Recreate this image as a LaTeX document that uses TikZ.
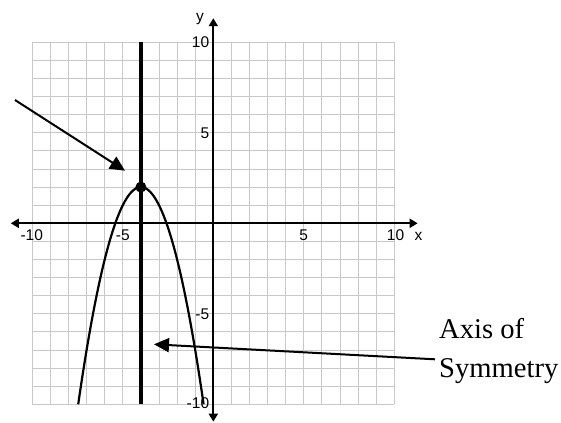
\documentclass[tikz,border=0pt]{standalone}
\usepackage{fontspec}
\setmainfont{Liberation Serif}
\setsansfont{Liberation Sans}
\usetikzlibrary{arrows.meta}
\definecolor{gridgray}{RGB}{200,200,200}
\tikzset{
  gridline/.style={draw=gridgray, line width=1pt},
  axisline/.style={draw=black, line width=2pt, {Triangle[length=8pt,width=9pt]}-{Triangle[length=8pt,width=9pt]}},
  symline/.style={draw=black, line width=3.4pt},
  curve/.style={draw=black, line width=2.2pt},
  pointer/.style={draw=black, line width=2pt, -{Triangle[length=15pt,width=14pt]}},
  ticklab/.style={font=\sffamily\fontsize{15.5}{18}\selectfont, inner sep=0pt},
  biglabel/.style={font=\rmfamily\fontsize{28.6}{39}\selectfont, align=left, inner sep=0pt},
}
\begin{document}
\begin{tikzpicture}[x=18.1pt, y=18.1pt]
  \useasboundingbox (-11.785,-11.033) rectangle (19.210,12.337);
  \fill[white] (-11.785,-11.033) rectangle (19.210,12.337);
  % grid
  \draw[gridline, step=18.1pt] (-10,-10) grid (10,10);
  % axes
  \coordinate (xl) at (-11.19,0);
  \coordinate (xr) at (11.29,0);
  \coordinate (yb) at (0,-10.96);
  \coordinate (yt) at (0,11.33);
  \draw[axisline] (xl) -- (xr);
  \draw[axisline] (yb) -- (yt);
  % axis of symmetry
  \coordinate (st) at (-4,10);
  \coordinate (sb) at (-4,-10);
  \draw[symline] (sb) -- (st);
  % parabola
  \draw[curve] plot[domain=-7.464:-0.536, samples=120, smooth] (\x,{2-(\x+4)^2});
  % vertex
  \node[circle, fill=black, inner sep=0pt, minimum size=11pt] (vertex) at (-4,2) {};
  % tick labels x
  \node[ticklab, anchor=base] (xm10) at (-10.03,-0.95) {-10};
  \node[ticklab, anchor=base] (xm5) at (-5.0,-0.95) {-5};
  \node[ticklab, anchor=base] (xp5) at (5.0,-0.95) {5};
  \node[ticklab, anchor=base] (xp10) at (10.07,-0.95) {10};
  \node[ticklab, anchor=base] (xlab) at (11.34,-0.95) {x};
  % tick labels y
  \node[ticklab, anchor=east] (yp10) at (-0.22,10.03) {10};
  \node[ticklab, anchor=east] (yp5) at (-0.22,4.97) {5};
  \node[ticklab, anchor=east] (ym5) at (-0.22,-5.03) {-5};
  \node[ticklab, anchor=east] (ym10) at (-0.22,-9.93) {-10};
  \node[ticklab, anchor=base] (ylab) at (-0.73,11.14) {y};
  % vertex pointer
  \coordinate (p1s) at (-10.956,6.812);
  \coordinate (p1t) at (-4.878,2.906);
  \draw[pointer] (p1s) -- (p1t);
  % axis label and pointer
  \node[biglabel, anchor=west] (axlab) at (12.47,-7.03) {Axis of\\Symmetry};
  \coordinate (p2s) at (12.249,-7.514);
  \coordinate (p2t) at (-3.276,-6.685);
  \draw[pointer] (p2s) -- (p2t);
\end{tikzpicture}
\end{document}
